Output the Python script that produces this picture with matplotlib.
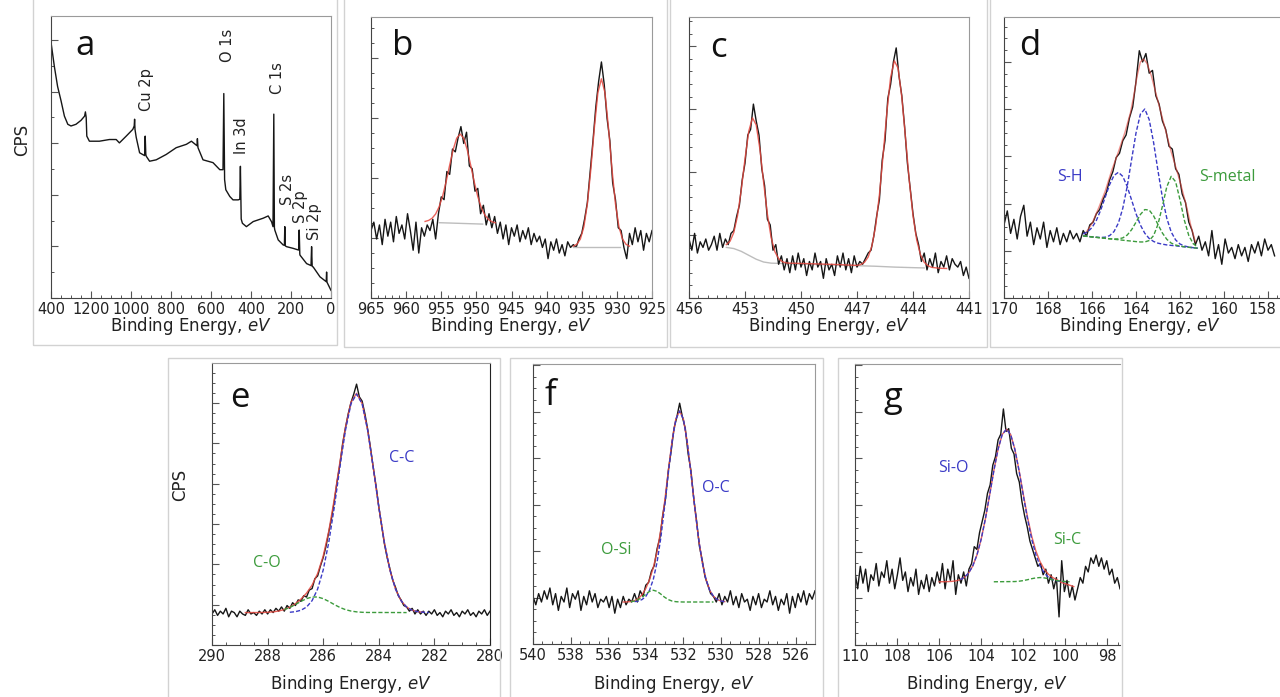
import numpy as np
import matplotlib
matplotlib.use("Agg")
import matplotlib.pyplot as plt
from matplotlib.patches import Rectangle
from matplotlib.ticker import MultipleLocator
from matplotlib.transforms import ScaledTranslation

# ---------------- data (intensities in % of each panel's height) ----------------
# a: survey
a_energy = [1400, 1383, 1367, 1350, 1333, 1316, 1300, 1275, 1250, 1232, 1228, 1224, 1221,
            1208, 1158, 1108, 1074, 1058, 1024, 991, 984, 982, 980, 974, 957, 932, 929, 926,
            924, 907, 874, 824, 774, 723, 698, 670, 668, 665, 640, 590, 556, 540, 536, 532,
            526, 506, 490, 464, 456, 453, 449, 443, 423, 389, 339, 314, 297, 290, 286, 283,
            281, 264, 239, 233, 231, 229, 222, 189, 162, 159, 156, 155, 122, 100, 97, 94, 89,
            55, 24, 22, 20, 0]
a_cps = [90.7, 82, 75, 70, 64.5, 61.6, 61, 61.6, 63, 64.5, 66, 64, 57.4,
         55.6, 55.6, 56.2, 56.2, 55, 57.4, 59.8, 61, 63.4, 59.8, 57, 51.5, 50.5, 57.4, 51,
         50.3, 48.5, 49, 50.9, 53.3, 54.5, 55.6, 54, 56.5, 53.3, 49, 48, 45.5, 45.5, 72.5, 42,
         38.4, 36, 34.8, 34.8, 35, 46.7, 28, 26.5, 25.3, 27.1, 28.3, 29.1, 27, 25.3, 65.2, 25,
         24.1, 20.6, 18.8, 18.7, 25.3, 18.5, 18.2, 17.6, 17, 24.1, 15.6, 15.2, 12.2, 11.5, 18.2, 11.2, 11,
         7.5, 5.8, 9.2, 5.6, 2.7]
a_ticks = [1400, 1200, 1000, 800, 600, 400, 200, 0]
a_ticklabels = ["400", "1200", "1000", "800", "600", "400", "200", "0"]
a_peak_names = ["Cu 2p", "O 1s", "In 3d", "C 1s", "S 2s", "S 2p", "Si 2p"]

# b: Cu 2p
b_range = (965, 925)
b_cps = [24, 27, 21, 26, 19, 28, 22, 27, 20, 29, 23, 26, 21, 30, 24, 17, 27, 16, 25, 22,
         26, 24, 28, 21, 30, 36, 35, 45, 44, 53, 52, 57, 61, 55, 59, 47, 46, 38, 39, 30,
         33, 26, 30, 25, 29, 23, 27, 21, 26, 19, 25, 22, 26, 20, 24, 21, 25, 19, 23, 20,
         22, 18, 21, 14, 20, 17, 21, 16, 19, 15, 20, 18, 19, 18, 21, 23, 28, 34, 45, 56,
         68, 77, 84, 76, 64, 56, 41, 35, 25, 24, 18, 14, 23, 19, 25, 20, 24, 17, 23, 20, 24]
b_fit1_e = [957.3, 956.8, 956.3, 955.8, 955.3, 954.8, 954.3, 953.8, 953.3, 952.8, 952.3,
            951.8, 951.3, 950.8, 950.3, 949.8, 949.3, 948.8, 948.3, 947.8, 947.3]
b_fit1_y = [27.25, 27.61, 28.39, 29.9, 32.47, 36.33, 41.46, 47.3, 52.85, 56.88, 58.35,
            56.83, 52.75, 47.15, 41.26, 36.08, 32.17, 29.55, 27.99, 27.16, 26.75]
b_fit2_e = [936.2, 935.7, 935.2, 934.7, 934.2, 933.7, 933.2, 932.7, 932.2, 931.7, 931.2,
            930.7, 930.2, 929.7, 929.2, 928.7, 928.2]
b_fit2_y = [18.45, 19.11, 20.97, 25.29, 33.47, 45.95, 60.71, 73.11, 78.0, 73.11, 60.71,
            45.95, 33.47, 25.29, 20.97, 19.11, 18.45]
b_bg1_e = [955.3, 949.1]
b_bg1_y = [26.8, 26.3]
b_bg2_e = [936.3, 929.6]
b_bg2_y = [18.2, 18.2]
b_ticks = [965, 960, 955, 950, 945, 940, 935, 930, 925]

# c: In 3d
c_range = (456, 441)
c_cps = [21, 17, 23, 16, 20, 18, 21, 17, 19, 22, 17, 23, 18, 21, 19, 23, 24, 29, 33, 42,
         48, 58, 60, 69, 63, 58, 46, 40, 28, 26, 17, 19, 12, 15, 10, 14, 9, 15, 10, 16,
         11, 14, 8, 13, 10, 16, 11, 13, 7, 14, 10, 12, 8, 15, 11, 16, 10, 14, 9, 15,
         11, 13, 12, 14, 16, 17, 22, 29, 35, 49, 56, 71, 76, 84, 89, 79, 72, 61, 48, 39,
         30, 23, 19, 13, 16, 10, 14, 11, 16, 9, 13, 11, 15, 10, 14, 12, 11, 13, 8, 11, 7]
c_fit_e = [454.0, 453.8, 453.6, 453.4, 453.2, 453.0, 452.8, 452.6, 452.4, 452.2, 452.0,
           451.8, 451.6, 451.4, 451.2, 451.0, 450.8, 450.6, 450.0, 449.0, 448.0, 447.0,
           446.8, 446.6, 446.4, 446.2, 446.0, 445.8, 445.6, 445.4, 445.2, 445.0, 444.8,
           444.6, 444.4, 444.2, 444.0, 443.8, 443.6, 443.4, 443.2, 443.0, 442.6, 442.2]
c_fit_y = [19.0, 20.2, 23.3, 29.3, 38.5, 49.5, 59.3, 64.1, 61.6, 52.9, 41.0,
           29.8, 21.5, 16.5, 14.0, 12.9, 12.5, 12.4, 12.3, 12.1, 11.9, 11.6,
           11.9, 12.7, 14.6, 18.6, 25.7, 36.7, 50.9, 66.1, 78.5, 84.4, 81.8,
           71.5, 56.9, 41.8, 29.3, 20.6, 15.4, 12.7, 11.5, 10.9, 10.6, 10.5]
c_bg_e = [454.0, 453.6, 453.2, 452.8, 452.4, 452.0, 451.6, 447.0, 446.0, 445.0, 444.0, 443.4]
c_bg_y = [18.0, 17.6, 16.6, 15.2, 13.8, 12.8, 12.4, 11.5, 11.3, 11.0, 10.8, 10.7]
c_ticks = [456, 453, 450, 447, 444, 441]

# d: S 2p
d_range = (170.0, 157.7)
d_cps = [26, 31, 23, 28, 21, 29, 33, 22, 27, 19, 25, 21, 27, 18, 24, 20, 25, 19, 23, 20,
         24, 21, 23, 20, 24, 22, 26, 27, 30, 31.5, 35, 37.5, 42, 45, 50, 51.5, 56, 58, 64, 68,
         77, 88, 84, 87, 80, 81, 72, 69, 63, 60, 54, 53, 46, 44, 37, 34, 27, 24, 19, 22,
         17, 20, 15, 24, 14, 19, 12, 21, 16, 18, 14, 19, 15, 18, 13, 19, 16, 20, 15, 21,
         17, 19, 15]
d_fit_e = [166.3, 166.0, 165.7, 165.4, 165.1, 164.8, 164.5, 164.25, 164.1, 163.95, 163.8,
           163.65, 163.5, 163.3, 163.1, 162.9, 162.6, 162.4, 162.15, 161.95, 161.7, 161.5, 161.3]
d_fit_y = [23, 26.5, 32, 38, 45.5, 52, 59, 66, 72, 79, 84,
           85, 83.5, 79, 73, 67, 58, 52, 45.5, 40, 32.5, 25.5, 20]
d_comp_e = [166.4, 166.2, 166.0, 165.8, 165.6, 165.4, 165.2, 165.0, 164.8, 164.6, 164.4,
            164.2, 164.0, 163.8, 163.6, 163.4, 163.2, 163.0, 162.8, 162.6, 162.4, 162.2,
            162.0, 161.8, 161.6, 161.4, 161.2]
d_sh = [22.79, 23.54, 25.06, 27.64, 31.36, 35.87, 40.34, 43.61, 44.74, 43.27, 39.66,
        34.87, 30.02, 25.96, 23.04, 21.18, 20.11, 19.51, 19.16, 18.89, 18.72, 18.56,
        18.39, 18.22, 18.05, 17.88, 17.72]
d_sh2 = [22.08, 21.92, 21.76, 21.62, 21.54, 21.64, 22.20, 23.64, 26.67, 31.94, 39.71,
         49.27, 58.72, 65.45, 67.26, 63.48, 55.32, 45.24, 35.74, 28.36, 23.48, 20.68,
         19.22, 18.51, 18.14, 17.91, 17.73]
d_sm1 = [22.08, 21.92, 21.75, 21.58, 21.41, 21.24, 21.08, 20.99, 21.03, 21.40, 22.40,
         24.30, 26.97, 29.73, 31.47, 31.30, 29.23, 26.13, 23.12, 20.89, 19.55, 18.85,
         18.47, 18.22, 18.05, 17.88, 17.72]
d_sm2 = [22.08, 21.92, 21.75, 21.58, 21.41, 21.24, 21.08, 20.91, 20.74, 20.57, 20.40,
         20.24, 20.07, 19.94, 19.95, 20.45, 22.22, 26.23, 32.67, 39.58, 43.30, 41.39,
         34.97, 27.63, 22.23, 19.33, 18.11]
d_ticks = [170, 168, 166, 164, 162, 160, 158]

# e: C 1s
e_range = (290.0, 280.0)
e_cps = [11, 12.5, 10.5, 12, 11, 13, 10, 12, 11.5, 10, 12, 11, 10.5, 12.5, 11, 11.5, 10.5,
         12, 11, 12.5, 11, 12.5, 11.5, 13, 12, 13.5, 12, 14, 13, 15, 14, 16, 15.5, 17.5, 17,
         19.5, 20, 23.5, 24.5, 28, 31, 35, 40, 45, 51, 58, 64, 71.5, 77, 82, 86, 89, 92.5,
         88, 86.5, 82, 76.5, 70, 63, 56.5, 49, 42.5, 36, 31, 27, 23, 20.5, 17.5, 16, 14,
         13.5, 12, 13, 11, 12.5, 11, 12, 10.5, 12, 11, 12.5, 10.5, 11.5, 10, 12, 11, 12.5,
         10.5, 11.5, 10, 12, 11, 12.5, 10.5, 11.5, 10, 12, 11, 12.5, 10.5, 12]
e_fit_e = [288.8, 288.6, 288.4, 288.2, 288.0, 287.8, 287.6, 287.4, 287.2, 287.0, 286.8,
           286.6, 286.4, 286.2, 286.0, 285.8, 285.6, 285.4, 285.2, 285.0, 284.8, 284.6,
           284.4, 284.2, 284.0, 283.8, 283.6, 283.4, 283.2, 283.0, 282.8, 282.6, 282.4]
e_fit_y = [11.5, 11.5, 11.51, 11.54, 11.6, 11.75, 12.05, 12.58, 13.43, 14.66, 16.28,
           18.39, 21.24, 25.37, 31.53, 40.34, 51.79, 64.8, 77.16, 86.1, 89.25, 85.66,
           76.16, 62.99, 48.95, 36.38, 26.59, 19.85, 15.72, 13.45, 12.32, 11.82, 11.61]
e_cc_e = [287.2, 287.0, 286.8, 286.6, 286.4, 286.2, 286.0, 285.8, 285.6, 285.4, 285.2,
          285.0, 284.8, 284.6, 284.4, 284.2, 284.0, 283.8, 283.6, 283.4, 283.2, 283.0,
          282.8, 282.6, 282.4, 282.2]
e_cc_y = [11.61, 11.82, 12.32, 13.45, 15.72, 19.85, 26.59, 36.38, 48.95, 62.98, 76.12,
          85.56, 89.0, 85.56, 76.12, 62.98, 48.95, 36.38, 26.59, 19.85, 15.72, 13.45,
          12.32, 11.82, 11.61, 11.54]
e_co_e = [287.4, 287.2, 287.0, 286.8, 286.6, 286.4, 286.2, 286.0, 285.8, 285.6, 285.4,
          285.2, 285.0, 284.8, 284.6, 284.4, 283.0]
e_co_y = [12.54, 13.32, 14.34, 15.46, 16.44, 17.02, 17.02, 16.44, 15.46, 14.34, 13.32,
          12.54, 12.04, 11.75, 11.6, 11.54, 11.5]
e_ticks = [290, 288, 286, 284, 282, 280]

# f: O 1s
f_range = (540.0, 525.0)
f_cps = [17, 14, 18, 15, 19, 16, 20, 14, 18, 12, 17, 15, 20, 13, 18, 16, 19, 12, 17, 14,
         19, 15, 18, 13, 16, 15, 17, 13, 17, 11, 16, 13, 17, 14, 16, 15, 18, 15, 19, 17,
         21, 22, 26, 28, 34, 38, 46, 52, 62, 69, 77, 81, 86, 81, 77, 68, 62, 52, 44, 35,
         30, 24, 21, 18, 17, 15, 18, 14, 17, 15, 19, 14, 17, 13, 18, 15, 16, 12, 17, 14,
         18, 13, 16, 15, 19, 14, 17, 12, 16, 14, 18, 11, 17, 13, 18, 15, 19, 14, 18, 16, 19]
f_fit_e = [535.2, 535.0, 534.8, 534.6, 534.4, 534.2, 534.0, 533.8, 533.6, 533.4, 533.2,
           533.0, 532.8, 532.6, 532.4, 532.2, 532.0, 531.8, 531.6, 531.4, 531.2, 531.0,
           530.8, 530.6, 530.4, 530.2, 530.0, 529.8]
f_fit_y = [15.0, 15.04, 15.15, 15.47, 16.2, 17.59, 19.83, 23.02, 27.3, 33.05, 40.82,
           50.72, 61.97, 72.66, 80.41, 83.23, 80.3, 72.32, 61.12, 49.01, 38.0, 29.25,
           23.1, 19.22, 17.01, 15.88, 15.35, 15.13]
f_oc_e = [534.6, 534.4, 534.2, 534.0, 533.8, 533.6, 533.4, 533.2, 533.0, 532.8, 532.6,
          532.4, 532.2, 532.0, 531.8, 531.6, 531.4, 531.2, 531.0, 530.8, 530.6, 530.4,
          530.2, 530.0, 529.8]
f_oc_y = [15.13, 15.35, 15.88, 17.01, 19.22, 23.1, 29.25, 38.0, 49.01, 61.12, 72.32,
          80.3, 83.2, 80.3, 72.32, 61.12, 49.01, 38.0, 29.25, 23.1, 19.22, 17.01,
          15.88, 15.35, 15.13]
f_osi_e = [534.8, 534.6, 534.4, 534.2, 534.0, 533.8, 533.6, 533.4, 533.2, 533.0, 532.8,
           532.6, 532.4, 532.2, 532.0, 530.4]
f_osi_y = [15.11, 15.34, 15.85, 16.71, 17.82, 18.8, 19.2, 18.8, 17.82, 16.71, 15.85,
           15.34, 15.11, 15.03, 15.0, 15.0]
f_ticks = [540, 538, 536, 534, 532, 530, 528, 526]

# g: Si 2p
g_range = (110.0, 97.4)
g_cps = [26, 20, 28, 22, 27, 19, 25, 23, 29, 21, 26, 24, 30, 22, 27, 20, 25, 31, 23, 26,
         19, 24, 21, 27, 18, 23, 20, 25, 19, 24, 21, 26, 22, 29, 20, 27, 23, 30, 18, 25,
         22, 26, 21, 27, 29, 35, 34, 40, 44, 48, 54, 57, 64, 67, 73, 75, 84, 76, 77, 70,
         68, 61, 58, 51, 46, 42, 37, 34, 31, 28, 29, 25, 27, 22, 25, 20, 24, 10, 30, 19,
         23, 17, 21, 16, 20, 24, 22, 28, 26, 31, 29, 32, 28, 31, 27, 30, 25, 27, 22, 24, 20]
g_fit_e = [106.0, 105.8, 105.6, 105.4, 105.2, 105.0, 104.8, 104.6, 104.4, 104.2, 104.0,
           103.8, 103.6, 103.4, 103.2, 103.0, 102.8, 102.6, 102.4, 102.2, 102.0, 101.8,
           101.6, 101.4, 101.2, 101.0, 100.8, 100.6, 100.4, 100.2, 100.0, 99.8, 99.6]
g_fit_y = [22.51, 22.52, 22.55, 22.64, 22.83, 23.25, 24.07, 25.59, 28.14, 32.08, 37.68,
           44.91, 53.32, 61.99, 69.63, 74.91, 76.8, 74.91, 69.71, 62.19, 53.74, 45.64,
           38.77, 33.46, 29.64, 26.97, 25.16, 23.98, 23.25, 22.3, 21.8, 21.3, 20.8]
g_sio_e = [105.0, 104.8, 104.6, 104.4, 104.2, 104.0, 103.8, 103.6, 103.4, 103.2, 103.0,
           102.8, 102.6, 102.4, 102.2, 102.0, 101.8, 101.6, 101.4, 101.2, 101.0, 100.8,
           100.6, 100.4, 100.2, 100.0]
g_sio_y = [23.25, 24.07, 25.59, 28.14, 32.08, 37.68, 44.91, 53.32, 61.99, 69.63, 74.91,
           76.8, 74.91, 69.63, 61.99, 53.32, 44.91, 37.68, 32.08, 28.14, 25.59, 24.07,
           23.25, 22.83, 22.64, 22.55]
g_sic_e = [103.4, 102.4, 102.2, 102.0, 101.8, 101.6, 101.4, 101.2, 101.0, 100.8, 100.6,
           100.4, 100.2, 100.0, 99.8]
g_sic_y = [22.5, 22.58, 22.7, 22.92, 23.23, 23.59, 23.88, 24.0, 23.88, 23.59, 23.23,
           22.92, 22.7, 22.58, 22.5]
g_ticks = [110, 108, 106, 104, 102, 100, 98]

# ---------------- drawing ----------------
W, H = 1280, 697
BLACK = "#161616"
RED = "#e5483f"
BLUE = "#3a3ac6"
GREEN = "#3c9b3c"
GRAY = "#bdbdbd"

fig = plt.figure(figsize=(W / 100, H / 100), dpi=100)


def rect(l, t, r, b):
    return [l / W, 1 - b / H, (r - l) / W, (b - t) / H]


def text(x, y, s, **kw):
    fig.text(x / W, 1 - y / H, s, ha="center", va="center", **kw)


def frame(l, t, r, b):
    fig.add_artist(Rectangle((l / W, 1 - b / H), (r - l) / W, (b - t) / H,
                             transform=fig.transFigure, fill=False,
                             ec="#d2d2d2", lw=1.0))


def panel(pos, xlim, ticks, labels, xminor, ystep, ydiv):
    ax = fig.add_axes(rect(*pos))
    ax.set_xlim(*xlim)
    ax.set_ylim(0, 100)
    ax.set_xticks(ticks, labels=labels)
    ax.xaxis.set_minor_locator(MultipleLocator(xminor))
    ax.yaxis.set_major_locator(MultipleLocator(ystep))
    ax.yaxis.set_minor_locator(MultipleLocator(ystep / ydiv))
    ax.tick_params(which="both", direction="in", colors="#555555",
                   labelcolor="#222222", labelleft=False, labelsize=10.5, pad=3)
    ax.tick_params(which="major", length=5, width=0.8)
    ax.tick_params(which="minor", length=2.5, width=0.7)
    for side in ("left", "bottom"):
        ax.spines[side].set_color("#444444")
    for side in ("top", "right"):
        ax.spines[side].set_color("#9a9a9a")
    return ax


# panel frames
for fr in [(33, -5, 337, 345), (344, -5, 667, 347), (670, -5, 987, 347), (990, -5, 1290, 347),
           (168, 358, 500, 705), (510, 358, 823, 705), (838, 358, 1122, 705)]:
    frame(*fr)

# a
ax = panel((51, 16, 331, 298), (1400, 0), a_ticks, a_ticklabels, 50, 18.3, 2)
ax.plot(a_energy, a_cps, color=BLACK, lw=1.0)

# b
ax = panel((371, 17, 652, 298), b_range, b_ticks, [str(t) for t in b_ticks], 1, 21.35, 4)
ax.plot(np.linspace(*b_range, len(b_cps)), b_cps, color=BLACK, lw=1.0)
ax.plot(b_bg1_e, b_bg1_y, color=GRAY, lw=1)
ax.plot(b_bg2_e, b_bg2_y, color=GRAY, lw=1)
ax.plot(b_fit1_e, b_fit1_y, color=RED, lw=1, alpha=0.85)
ax.plot(b_fit2_e, b_fit2_y, color=RED, lw=1, alpha=0.85)

# c
ax = panel((689, 17, 969, 298), c_range, c_ticks, [str(t) for t in c_ticks], 0.5, 22.4, 5)
ax.plot(c_bg_e, c_bg_y, color=GRAY, lw=1)
ax.plot(np.linspace(*c_range, len(c_cps)), c_cps, color=BLACK, lw=1.0)
ax.plot(c_fit_e, c_fit_y, color=RED, lw=1, alpha=0.85)

# d (runs off the right edge of the figure, as in the source)
ax = panel((1004, 17, 1290, 298), (170.0, 170.0 - 286 / 22.0), d_ticks,
           [str(t) for t in d_ticks], 0.4, 16.8, 4)
ax.spines["right"].set_visible(False)
last = ax.get_xticklabels()[-1]
last.set_transform(last.get_transform() + ScaledTranslation(-4 / 72, 0, fig.dpi_scale_trans))
ax.plot(np.linspace(*d_range, len(d_cps)), d_cps, color=BLACK, lw=1.0)
ax.plot(d_fit_e, d_fit_y, color=RED, lw=1, alpha=0.6)
ax.plot(d_comp_e, d_sh, color=BLUE, lw=1, ls=(0, (3, 1.5)))
ax.plot(d_comp_e, d_sh2, color=BLUE, lw=1, ls=(0, (3, 1.5)))
ax.plot(d_comp_e, d_sm1, color=GREEN, lw=1, ls=(0, (3, 1.5)))
ax.plot(d_comp_e, d_sm2, color=GREEN, lw=1, ls=(0, (3, 1.5)))

# e
ax = panel((212, 363, 490, 645), e_range, e_ticks, [str(t) for t in e_ticks], 0.5, 14.3, 4)
ax.spines["right"].set_color("#222222")
ax.plot(np.linspace(*e_range, len(e_cps)), e_cps, color=BLACK, lw=1.0)
ax.plot(e_fit_e, e_fit_y, color=RED, lw=1, alpha=0.85)
ax.plot(e_cc_e, e_cc_y, color=BLUE, lw=1, ls=(0, (3, 1.5)))
ax.plot(e_co_e, e_co_y, color=GREEN, lw=1, ls=(0, (3, 1.5)))

# f
ax = panel((533, 364, 815, 644), f_range, f_ticks, [str(t) for t in f_ticks], 0.5, 16.6, 4)
ax.plot(np.linspace(*f_range, len(f_cps)), f_cps, color=BLACK, lw=1.0)
ax.plot(f_fit_e, f_fit_y, color=RED, lw=1, alpha=0.85)
ax.plot(f_oc_e, f_oc_y, color=BLUE, lw=1, ls=(0, (3, 1.5)))
ax.plot(f_osi_e, f_osi_y, color=GREEN, lw=1, ls=(0, (3, 1.5)))

# g
ax = panel((855, 364, 1120, 645), g_range, g_ticks, [str(t) for t in g_ticks], 0.5, 16.6, 4)
ax.spines["right"].set_visible(False)
ax.plot(np.linspace(*g_range, len(g_cps)), g_cps, color=BLACK, lw=1.0)
ax.plot(g_fit_e, g_fit_y, color=RED, lw=1, alpha=0.85)
ax.plot(g_sio_e, g_sio_y, color=BLUE, lw=1, ls=(0, (3, 1.5)))
ax.plot(g_sic_e, g_sic_y, color=GREEN, lw=1, ls=(0, (3, 1.5)))

# texts
LETTER = dict(fontsize=25, family="Open Sans", color="#111111")
for s, x, y in [("a", 85, 46), ("b", 403, 46), ("c", 718, 48), ("d", 1030, 46),
                ("e", 240, 398), ("f", 550, 396), ("g", 893, 398)]:
    text(x, y, s, **LETTER)

xlabel = "Binding Energy, $\\mathit{eV}$"
for x, y in [(191, 326), (511, 326), (829, 326), (1140, 326),
             (351, 684), (674, 684), (987, 684)]:
    text(x, y, xlabel, fontsize=12, color="#222222")

text(22, 140, "CPS", fontsize=12, rotation=90, color="#222222")
text(180, 485, "CPS", fontsize=12, rotation=90, color="#222222")

for s, x, y in zip(a_peak_names, [147, 227, 242, 277, 287, 300, 315],
                   [90, 45, 136, 78, 189, 207, 222]):
    text(x, y, s, fontsize=10.5, rotation=90, color="#222222")

COMP = dict(fontsize=11.5, family="Open Sans")
for s, x, y, c in [("S-H", 1070, 177, BLUE), ("S-metal", 1227, 177, GREEN),
                   ("C-C", 402, 458, BLUE), ("C-O", 267, 563, GREEN),
                   ("O-C", 716, 488, BLUE), ("O-Si", 616, 550, GREEN),
                   ("Si-O", 953, 468, BLUE), ("Si-C", 1067, 540, GREEN)]:
    text(x, y, s, color=c, **COMP)

fig.savefig("out.png", dpi=100)
